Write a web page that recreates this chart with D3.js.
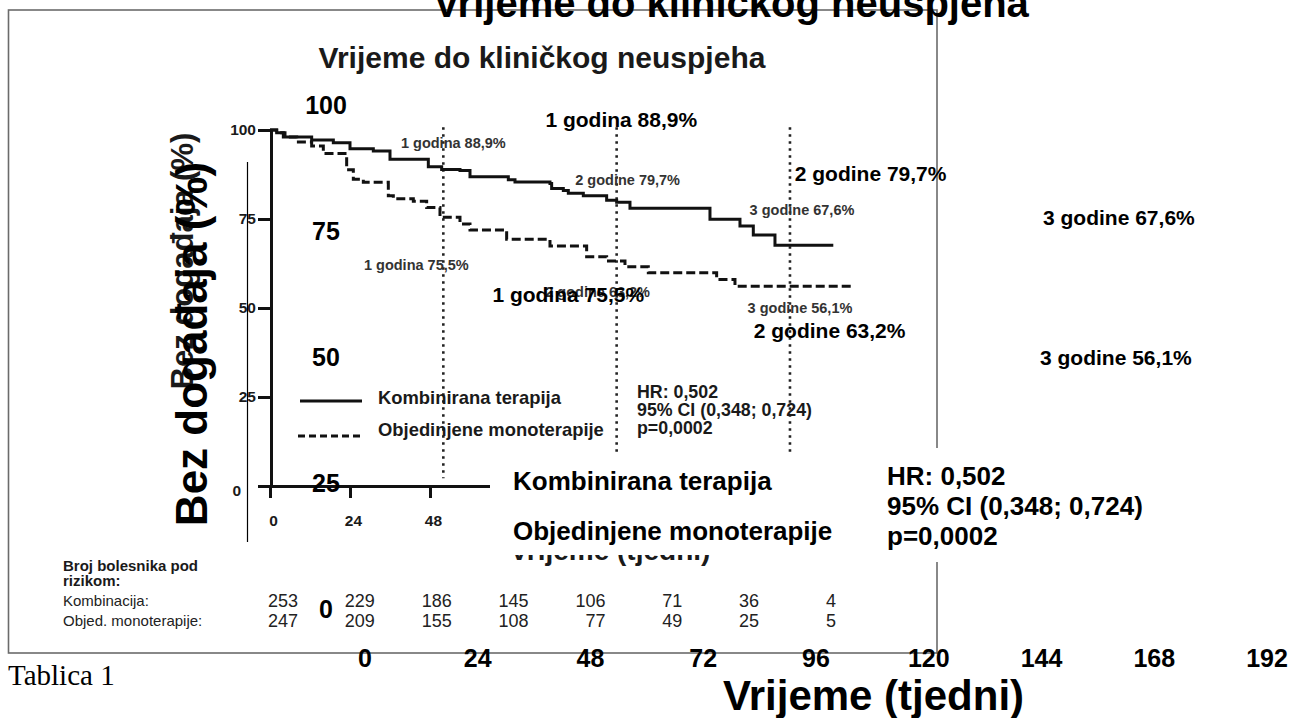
<!DOCTYPE html>
<html>
<head>
<meta charset="utf-8">
<script src="https://cdn.jsdelivr.net/npm/d3@7"></script>
<style>
  body { margin: 0; background: #fff; }
  svg { display: block; font-family: "Liberation Sans", Arial, sans-serif; }
</style>
</head>
<body>
<svg id="chart"></svg>
<script>
const width = 1292;
const height = 718;

const chartTitle = "Vrijeme do kliničkog neuspjeha";
const xTitle = "Vrijeme (tjedni)";
const yTitle = "Bez događaja (%)";
const seriesNames = ["Kombinirana terapija", "Objedinjene monoterapije"];
const statLines = ["HR: 0,502", "95% CI (0,348; 0,724)", "p=0,0002"];
const riskTitle = ["Broj bolesnika pod", "rizikom:"];
const riskNames = ["Kombinacija:", "Objed. monoterapije:"];

const weekTicks = [0, 24, 48, 72, 96, 120, 144, 168, 192];
const innerWeekTicks = [0, 24, 48, 72, 96, 120, 144, 168];
const pctTicks = [0, 25, 50, 75, 100];

// KM steps (weeks, % without event)
const kombWeeks = [0, 2, 4, 12.5, 19, 24, 31, 36, 47.5, 51.5, 57, 60, 71.5, 73.5, 84, 84.5, 88, 89.5, 94, 101, 104, 108, 132, 141, 145, 151.5, 169];
const kombPct = [100, 99.2, 98, 97.2, 96.4, 94.7, 94.1, 91.8, 89.7, 88.9, 88.6, 86.9, 86.0, 85.4, 85.0, 83.6, 83.0, 82.2, 81.5, 80.3, 79.7, 78.0, 74.9, 73.0, 70.5, 67.6, 67.6];
const monoWeeks = [0, 2, 4.5, 8, 12.5, 16, 23, 25, 28, 35.5, 37, 43, 47, 51, 57, 60, 71, 84, 95, 101, 106.5, 113.5, 134, 139.5, 175];
const monoPct = [100, 99.2, 98, 96.6, 95.5, 93.4, 88.8, 86.2, 85.3, 81.5, 80.7, 80.0, 78.2, 75.5, 73.6, 71.9, 69.3, 67.4, 64.4, 63.2, 61.6, 59.9, 58.0, 56.1, 56.1];

const landmarkWeeks = [52, 104, 156];
const kombLandmark = [88.9, 79.7, 67.6];
const monoLandmark = [75.5, 63.2, 56.1];
const kombLabels = ["1 godina 88,9%", "2 godine 79,7%", "3 godine 67,6%"];
const monoLabels = ["1 godina 75,5%", "2 godine 63,2%", "3 godine 56,1%"];

const riskKomb = [253, 229, 186, 145, 106, 71, 36, 4];
const riskMono = [247, 209, 155, 108, 77, 49, 25, 5];

// label offsets from the landmark point (px)
const innerKombOff = [[10, -22], [11, -17], [12, -30]];
const innerMonoOff = [[-27, 53], [-19, 36], [10, 27]];
const outerKombOff = [[12, -34], [17, -26], [21, -43]];
const outerMonoOff = [[-41, 74], [-24, 48], [18, 39]];

const svg = d3.select("#chart")
  .attr("width", width)
  .attr("height", height);

// frame
svg.append("rect")
  .attr("x", 8.5).attr("y", 10)
  .attr("width", 928.5).attr("height", 643)
  .attr("fill", "none")
  .attr("stroke", "#6b6b6b")
  .attr("stroke-width", 1.6);

// ---------- inner (picture) chart ----------
const ix = d3.scaleLinear().domain([0, 175]).range([270, 853.3]);
const iy = d3.scaleLinear().domain([0, 100]).range([486, 130]);

const inner = svg.append("g").attr("fill", "#1a1a1a");

inner.append("text")
  .attr("x", 542).attr("y", 68)
  .attr("text-anchor", "middle")
  .attr("font-size", 30).attr("font-weight", "bold")
  .text(chartTitle);

inner.append("text")
  .attr("transform", "translate(193,261) rotate(-90)")
  .attr("text-anchor", "middle")
  .attr("font-size", 31).attr("font-weight", "bold")
  .text(yTitle);

inner.append("text")
  .attr("x", 610).attr("y", 560)
  .attr("text-anchor", "middle")
  .attr("font-size", 28).attr("font-weight", "bold")
  .text(xTitle);

const yAxis = inner.append("g")
  .attr("transform", "translate(271,0)")
  .call(d3.axisLeft(iy).tickValues(pctTicks).tickSize(13).tickSizeOuter(0).tickPadding(2));
yAxis.selectAll("path, line").attr("stroke", "#111").attr("stroke-width", 3);
yAxis.selectAll("text")
  .attr("font-size", 15.5).attr("font-weight", "bold").attr("fill", "#1a1a1a")
  .attr("font-family", "Liberation Sans, Arial, sans-serif")
  .attr("dx", d => d === 0 ? -15 : 0)
  .attr("dy", d => d === 0 ? "0.6em" : "0.32em");

const xAxis = inner.append("g")
  .attr("transform", "translate(0,486)")
  .call(d3.axisBottom(ix).tickValues(innerWeekTicks).tickSize(12).tickSizeOuter(0).tickPadding(17));
xAxis.selectAll("path, line").attr("stroke", "#111").attr("stroke-width", 3);
xAxis.selectAll("text")
  .attr("font-size", 15.5).attr("font-weight", "bold").attr("fill", "#1a1a1a")
  .attr("font-family", "Liberation Sans, Arial, sans-serif")
  .attr("dx", 3);

// landmark dotted lines
inner.selectAll(".landmark")
  .data(landmarkWeeks)
  .enter().append("line")
  .attr("x1", d => ix(d)).attr("x2", d => ix(d))
  .attr("y1", iy(100.8)).attr("y2", iy(2.2))
  .attr("stroke", "#222")
  .attr("stroke-width", 2.6)
  .attr("stroke-dasharray", "2.5,4.5");

const step = d3.line()
  .x(d => ix(d[0]))
  .y(d => iy(d[1]))
  .curve(d3.curveStepAfter);

inner.append("path")
  .datum(d3.zip(kombWeeks, kombPct))
  .attr("fill", "none").attr("stroke", "#111").attr("stroke-width", 3)
  .attr("d", step);

inner.append("path")
  .datum(d3.zip(monoWeeks, monoPct))
  .attr("fill", "none").attr("stroke", "#111").attr("stroke-width", 3)
  .attr("stroke-dasharray", "9,4")
  .attr("d", step);

// landmark labels
inner.selectAll(".klab")
  .data(kombLabels)
  .enter().append("text")
  .attr("x", (d, i) => ix(landmarkWeeks[i]) + innerKombOff[i][0])
  .attr("y", (d, i) => iy(kombLandmark[i]) + innerKombOff[i][1])
  .attr("text-anchor", "middle")
  .attr("font-size", 14.5).attr("font-weight", "bold").attr("fill", "#333")
  .text(d => d);

inner.selectAll(".mlab")
  .data(monoLabels)
  .enter().append("text")
  .attr("x", (d, i) => ix(landmarkWeeks[i]) + innerMonoOff[i][0])
  .attr("y", (d, i) => iy(monoLandmark[i]) + innerMonoOff[i][1])
  .attr("text-anchor", "middle")
  .attr("font-size", 14.5).attr("font-weight", "bold").attr("fill", "#333")
  .text(d => d);

// inner legend
inner.append("line")
  .attr("x1", 300).attr("x2", 362).attr("y1", 401).attr("y2", 401)
  .attr("stroke", "#111").attr("stroke-width", 3);
inner.append("line")
  .attr("x1", 298).attr("x2", 362).attr("y1", 436).attr("y2", 436)
  .attr("stroke", "#111").attr("stroke-width", 3).attr("stroke-dasharray", "7,4");
inner.selectAll(".leg")
  .data(seriesNames)
  .enter().append("text")
  .attr("x", 378)
  .attr("y", (d, i) => 404 + i * 32)
  .attr("font-size", 18.4).attr("font-weight", "bold")
  .text(d => d);

inner.selectAll(".stat")
  .data(statLines)
  .enter().append("text")
  .attr("x", 637)
  .attr("y", (d, i) => 398 + i * 18)
  .attr("font-size", 17.8).attr("font-weight", "bold")
  .text(d => d);

// number at risk
inner.selectAll(".rtitle")
  .data(riskTitle)
  .enter().append("text")
  .attr("x", 63).attr("y", (d, i) => 571 + i * 15)
  .attr("font-size", 15).attr("font-weight", "bold")
  .text(d => d);

inner.selectAll(".rname")
  .data(riskNames)
  .enter().append("text")
  .attr("x", 63).attr("y", (d, i) => 606 + i * 19.5)
  .attr("font-size", 15).attr("fill", "#222")
  .text(d => d);

const rx = d3.scaleLinear().domain([0, 168]).range([298, 836]);
[riskKomb, riskMono].forEach((row, r) => {
  inner.selectAll(".risk" + r)
    .data(row)
    .enter().append("text")
    .attr("x", (d, i) => rx(innerWeekTicks[i]))
    .attr("y", 607 + r * 20)
    .attr("text-anchor", "end")
    .attr("font-size", 18).attr("fill", "#222")
    .text(d => d);
});

svg.append("line")
  .attr("x1", 247.5).attr("x2", 247.5).attr("y1", 162).attr("y2", 542)
  .attr("stroke", "#000").attr("stroke-width", 1.2);

// ---------- overlay layer ----------
const ox = d3.scaleLinear().domain([0, 192]).range([365, 1267]);
const oy = d3.scaleLinear().domain([0, 100]).range([609, 105]);

svg.append("rect")
  .attr("x", 490).attr("y", 456).attr("width", 392).attr("height", 99)
  .attr("fill", "#fff");
svg.append("rect")
  .attr("x", 880).attr("y", 448).attr("width", 270).attr("height", 114)
  .attr("fill", "#fff");

const outer = svg.append("g").attr("fill", "#000").attr("font-weight", "bold");

outer.append("text")
  .attr("x", 731).attr("y", 17)
  .attr("text-anchor", "middle")
  .attr("font-size", 40)
  .text(chartTitle);

outer.append("text")
  .attr("x", 723).attr("y", 710)
  .attr("font-size", 42)
  .text(xTitle);

outer.append("text")
  .attr("transform", "translate(207,344) rotate(-90)")
  .attr("text-anchor", "middle")
  .attr("font-size", 44)
  .text(yTitle);

outer.selectAll(".oyt")
  .data(pctTicks)
  .enter().append("text")
  .attr("x", 326)
  .attr("y", d => oy(d) + 9)
  .attr("text-anchor", "middle")
  .attr("font-size", 25)
  .text(d => d);

outer.selectAll(".oxt")
  .data(weekTicks)
  .enter().append("text")
  .attr("x", d => ox(d))
  .attr("y", 667)
  .attr("text-anchor", "middle")
  .attr("font-size", 25)
  .text(d => d);

outer.selectAll(".okl")
  .data(kombLabels)
  .enter().append("text")
  .attr("x", (d, i) => ox(landmarkWeeks[i]) + outerKombOff[i][0])
  .attr("y", (d, i) => oy(kombLandmark[i]) + outerKombOff[i][1])
  .attr("text-anchor", "middle")
  .attr("font-size", 21)
  .text(d => d);

outer.selectAll(".oml")
  .data(monoLabels)
  .enter().append("text")
  .attr("x", (d, i) => ox(landmarkWeeks[i]) + outerMonoOff[i][0])
  .attr("y", (d, i) => oy(monoLandmark[i]) + outerMonoOff[i][1])
  .attr("text-anchor", "middle")
  .attr("font-size", 21)
  .text(d => d);

outer.selectAll(".oleg")
  .data(seriesNames)
  .enter().append("text")
  .attr("x", 513)
  .attr("y", (d, i) => 490 + i * 50)
  .attr("font-size", 26)
  .text(d => d);

outer.selectAll(".ostat")
  .data(statLines)
  .enter().append("text")
  .attr("x", 887)
  .attr("y", (d, i) => 485 + i * 30)
  .attr("font-size", 26)
  .text(d => d);

svg.append("text")
  .attr("x", 8).attr("y", 685)
  .attr("font-family", "Liberation Serif, Times New Roman, serif")
  .attr("font-size", 29)
  .text("Tablica 1");
</script>
</body>
</html>
